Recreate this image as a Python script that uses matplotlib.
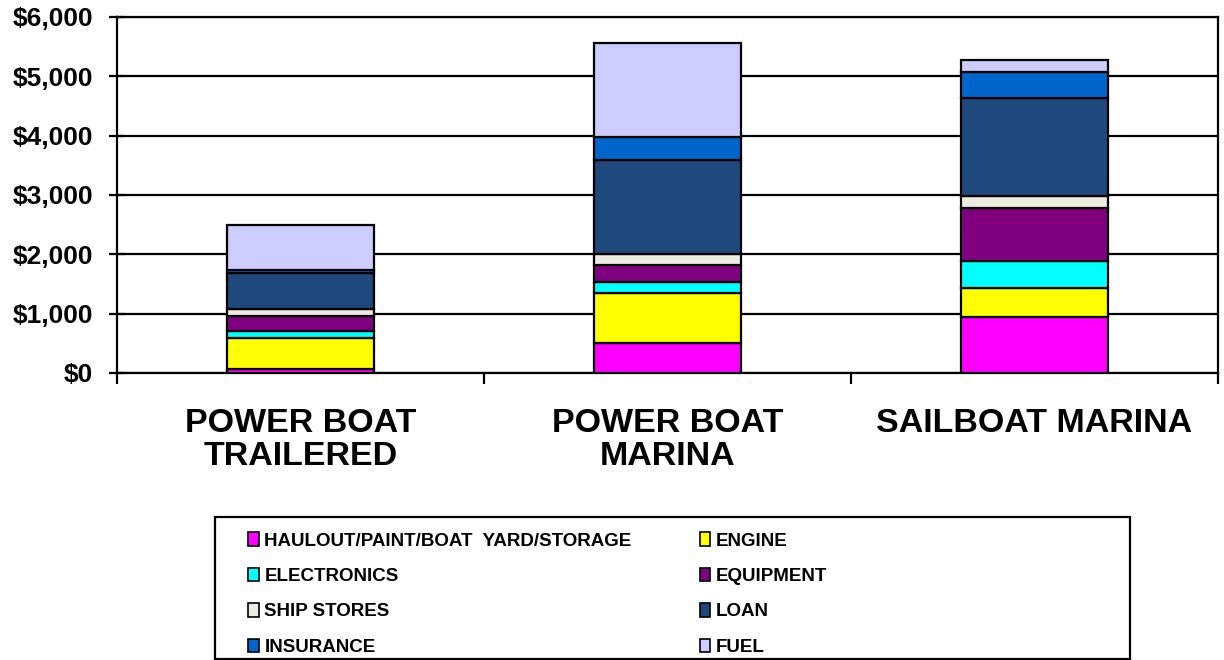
import numpy as np
import matplotlib.pyplot as plt
from matplotlib.patches import Patch, Rectangle
from matplotlib.ticker import FuncFormatter

# categories along x
boats = ['POWER BOAT\nTRAILERED', 'POWER BOAT\nMARINA', 'SAILBOAT MARINA']

# annual cost per category, stacked bottom to top
haulout     = [75, 510, 950]
engine      = [510, 830, 490]
electronics = [115, 200, 455]
equipment   = [260, 280, 880]
ship_stores = [125, 180, 215]
loan        = [600, 1590, 1640]
insurance   = [45, 395, 435]
fuel        = [765, 1585, 215]

labels = ['HAULOUT/PAINT/BOAT  YARD/STORAGE', 'ENGINE', 'ELECTRONICS', 'EQUIPMENT',
          'SHIP STORES', 'LOAN', 'INSURANCE', 'FUEL']
colors = ['#FF00FF', '#FFFF00', '#00FFFF', '#800080',
          '#EEECE1', '#1F497D', '#0066CC', '#CCCCFF']
series = [haulout, engine, electronics, equipment, ship_stores, loan, insurance, fuel]

plt.rcParams['font.family'] = ['Liberation Sans', 'DejaVu Sans']
plt.rcParams['font.weight'] = 'bold'

fig = plt.figure(figsize=(12.24, 6.6), dpi=100)
ax = fig.add_axes([117/1224, 1-373/660, (1218-117)/1224, (373-17)/660])

x = np.arange(len(boats))
bottom = np.zeros(len(boats))
for vals, col in zip(series, colors):
    ax.bar(x, vals, 0.4, bottom=bottom, color=col, edgecolor='black', linewidth=1.6, zorder=3)
    bottom += np.array(vals)

ax.set_xlim(-0.5, 2.5)
ax.set_ylim(0, 6000)
ax.set_yticks(np.arange(0, 6001, 1000))
ax.yaxis.set_major_formatter(FuncFormatter(lambda v, p: '${:,.0f}'.format(v)))
ax.grid(axis='y', color='black', linewidth=1.6, zorder=0)
for s in ax.spines.values():
    s.set_linewidth(1.6)

ax.set_xticks(x)
ax.set_xticklabels(boats, fontsize=24.5, fontweight='bold', linespacing=1.08)
ax.tick_params(axis='x', which='major', length=0, pad=25)
ax.set_xticks([-0.5, 0.5, 1.5, 2.5], minor=True)
ax.tick_params(axis='x', which='minor', length=8, width=1.6, direction='out')
ax.tick_params(axis='y', direction='inout', length=12, width=1.6, pad=11, labelsize=19)

# legend, row by row like the original (matplotlib fills columns first)
order = [0, 2, 4, 6, 1, 3, 5, 7]
handles = [Patch(facecolor=colors[i], edgecolor='black', linewidth=1.2) for i in order]
fig.legend(handles, [labels[i] for i in order], ncol=2, loc='upper left',
           bbox_to_anchor=(239/1224, 1-523/660), frameon=False, borderpad=0,
           handlelength=0.55, handleheight=0.7, handletextpad=0.3,
           labelspacing=0.98, columnspacing=3.65,
           prop={'weight': 'bold', 'size': 13.5})
fig.patches.append(Rectangle((215/1224, 0.002), (1130-215)/1224, (660-517)/660 - 0.002,
                             transform=fig.transFigure, fill=False,
                             edgecolor='black', linewidth=1.6))

fig.savefig('out.png', dpi=100)
